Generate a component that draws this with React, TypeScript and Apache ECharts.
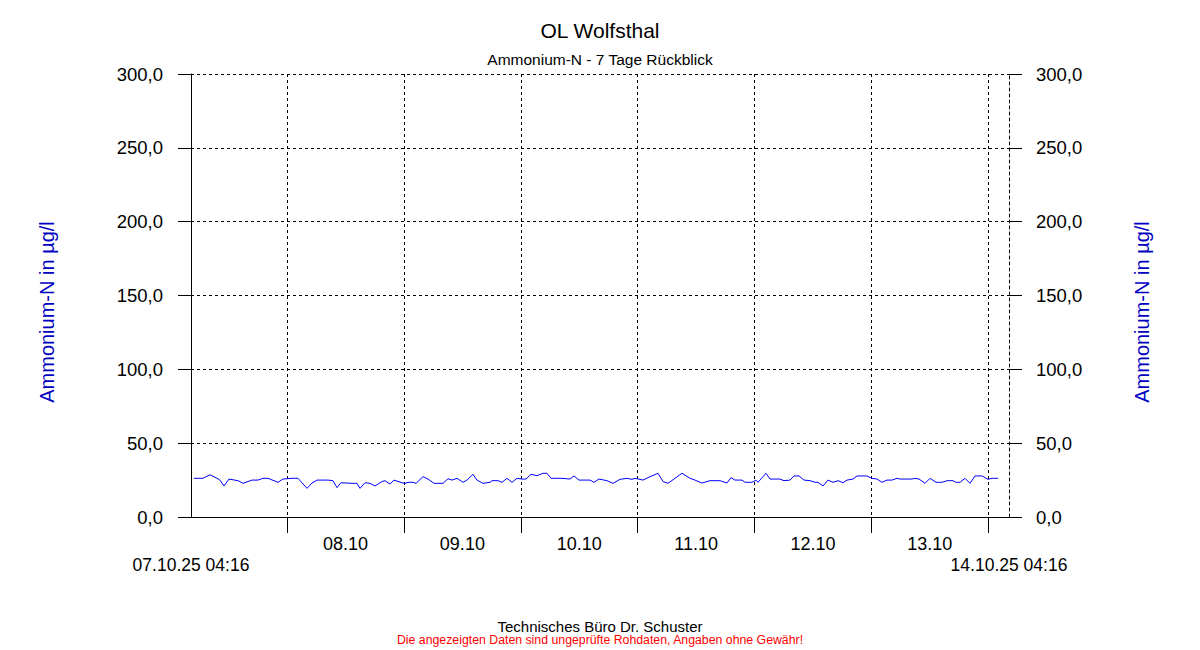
import React, { useEffect, useRef } from "react";
import * as echarts from "echarts";

// hours since 07.10.2025 00:00
const hours: number[] = [
  4.88, 6.73, 8.17, 9.61, 10.22, 11.04, 12.07, 13.92, 14.95, 16.79, 18.03, 19.05, 20.08, 22.13, 23.16,
  25.01, 26.24, 27.06, 28.09, 29.12, 30.15, 32.41, 33.43, 34.25, 35.07, 37.33, 38.36, 38.98, 40.0, 41.03,
  42.06, 43.49, 44.11, 45.14, 45.96, 47.6, 48.22, 48.84, 49.86, 50.48, 51.92, 52.94, 54.18, 56.02, 57.05,
  57.87, 58.9, 60.13, 60.95, 62.18, 63.01, 64.24, 65.68, 66.09, 67.32, 68.14, 69.17, 70.19, 71.22, 72.25,
  73.07, 74.09, 75.33, 76.56, 77.38, 78.2, 80.46, 82.1, 82.93, 83.95, 86.21, 87.04, 88.06, 89.7, 90.94,
  92.38, 93.81, 94.84, 95.46, 97.1, 98.54, 100.18, 101.21, 102.24, 103.67, 105.11, 106.76, 107.78, 109.22,
  110.86, 112.92, 114.35, 115.17, 115.99, 117.43, 118.05, 119.48, 120.3, 120.72, 122.36, 123.18, 125.24,
  126.06, 127.29, 128.11, 129.14, 130.17, 131.4, 132.43, 133.04, 134.07, 135.09, 136.12, 137.15, 138.17,
  139.0, 140.23, 141.05, 143.1, 144.13, 145.16, 146.18, 147.21, 148.24, 149.27, 149.88, 152.35, 152.96,
  153.78, 155.02, 156.04, 157.28, 158.51, 159.54, 160.77, 161.39, 162.21, 163.23, 164.26, 165.29, 166.73,
  167.96, 168.78, 170.01,
];
const values: number[] = [
  26.2, 26.2, 28.6, 26.2, 25.0, 21.0, 25.7, 24.6, 22.8, 25.0, 25.0, 26.2, 26.2, 23.5, 25.7,
  26.2, 26.2, 23.2, 19.4, 23.0, 25.0, 25.0, 24.6, 19.9, 23.2, 22.8, 22.8, 19.4, 23.2, 22.8,
  21.0, 24.0, 24.6, 22.3, 25.0, 23.2, 22.8, 23.5, 23.5, 22.8, 27.3, 25.7, 22.8, 22.8, 25.9,
  25.0, 26.2, 23.5, 25.0, 28.9, 25.0, 22.8, 23.5, 24.6, 24.6, 23.5, 26.2, 23.5, 26.2, 25.7,
  25.7, 28.9, 28.0, 29.6, 29.6, 26.2, 26.2, 25.7, 27.8, 25.0, 25.0, 23.5, 25.7, 24.6, 22.8,
  25.5, 26.2, 25.5, 26.2, 25.0, 27.3, 29.6, 24.0, 22.8, 26.2, 29.6, 26.2, 25.0, 23.0,
  24.6, 24.6, 23.0, 26.7, 25.0, 25.0, 23.5, 23.5, 25.0, 23.5, 29.6, 25.7, 25.7,
  24.6, 25.0, 27.8, 27.8, 25.0, 24.6, 23.5, 23.5, 21.0, 25.0, 23.5, 24.6, 23.2,
  25.0, 25.7, 27.8, 27.8, 26.2, 25.7, 23.5, 25.0, 25.0, 26.2, 25.7, 25.7, 26.2,
  25.7, 22.8, 26.2, 23.5, 23.5, 24.6, 24.6, 23.5, 23.5, 26.2, 22.8, 27.8, 27.8,
  25.5, 26.2, 26.2,
];

const xMin = 4 + 16 / 60; // 07.10.25 04:16
const xMax = 168 + 4 + 16 / 60; // 14.10.25 04:16
const midnights: number[] = [24, 48, 72, 96, 120, 144, 168];
const dayCenters: number[] = [36, 60, 84, 108, 132, 156];
const dayLabels: string[] = ["08.10", "09.10", "10.10", "11.10", "12.10", "13.10"];
const rangeLabels: string[] = ["07.10.25 04:16", "14.10.25 04:16"];
const yName = "Ammonium-N in µg/l";

const FONT = "'Liberation Sans', Arial, sans-serif";
const dash = [3, 3];

export default function App() {
  const ref = useRef<HTMLDivElement>(null);
  useEffect(() => {
    if (!ref.current) return;
    const chart = echarts.init(ref.current, null, { renderer: "svg" });
    const yLabel = (v: number) => v.toFixed(1).replace(".", ",");
    const t = (text: string, top: number, size: number, color: string) => ({
      text,
      left: "center",
      top,
      padding: 0,
      textStyle: { fontFamily: FONT, fontSize: size, fontWeight: "normal", color },
    });
    chart.setOption({
      animation: false,
      backgroundColor: "#ffffff",
      textStyle: { fontFamily: FONT },
      title: [
        t("OL Wolfsthal", 20, 21, "#000"),
        t("Ammonium-N - 7 Tage Rückblick", 51, 15.5, "#000"),
        t("Technisches Büro Dr. Schuster", 619, 15, "#000"),
        t("Die angezeigten Daten sind ungeprüfte Rohdaten, Angaben ohne Gewähr!", 634, 12.3, "#ff0000"),
      ],
      graphic: [
        {
          type: "text",
          x: 47,
          y: 312,
          rotation: Math.PI / 2,
          style: { text: yName, font: `20px ${FONT}`, fill: "#0000c0", align: "center", verticalAlign: "middle" },
        },
        {
          type: "text",
          x: 1142,
          y: 312,
          rotation: Math.PI / 2,
          style: { text: yName, font: `20px ${FONT}`, fill: "#0000c0", align: "center", verticalAlign: "middle" },
        },
      ],
      grid: { left: 191, right: 191, top: 74, bottom: 133, containLabel: false },
      xAxis: [
        {
          type: "value",
          min: xMin,
          max: xMax,
          axisLine: { show: true, lineStyle: { color: "#000", width: 1 } },
          axisTick: { show: true, customValues: midnights, length: 16, inside: false, lineStyle: { color: "#000" } },
          splitLine: { show: true, lineStyle: { color: "#000", type: dash, width: 1 } },
          axisLabel: {
            customValues: dayCenters,
            margin: 18,
            fontSize: 18,
            fontFamily: FONT,
            color: "#000",
            formatter: (v: number) => dayLabels[dayCenters.indexOf(v)] ?? "",
          },
        },
        {
          type: "value",
          min: xMin,
          max: xMax,
          position: "bottom",
          axisLine: { show: false },
          axisTick: { show: false },
          splitLine: { show: false },
          axisLabel: {
            customValues: [xMin, xMax],
            margin: 39,
            fontSize: 17.5,
            fontFamily: FONT,
            color: "#000",
            showMinLabel: true,
            showMaxLabel: true,
            formatter: (v: number) => (v === xMin ? rangeLabels[0] : rangeLabels[1]),
          },
        },
      ],
      yAxis: [
        {
          type: "value",
          position: "left",
          min: 0,
          max: 300,
          interval: 50,
          axisLine: { show: true, lineStyle: { color: "#000", width: 1 } },
          axisTick: { show: true, length: 13, lineStyle: { color: "#000" } },
          splitLine: { show: true, lineStyle: { color: "#000", type: dash, width: 1 } },
          axisLabel: { margin: 28, fontSize: 18.5, fontFamily: FONT, color: "#000", formatter: yLabel },
        },
        {
          type: "value",
          position: "right",
          min: 0,
          max: 300,
          interval: 50,
          axisLine: { show: true, lineStyle: { color: "#000", width: 1, type: dash } },
          axisTick: { show: true, length: 13, lineStyle: { color: "#000" } },
          splitLine: { show: false },
          axisLabel: { margin: 27, fontSize: 18.5, fontFamily: FONT, color: "#000", formatter: yLabel },
        },
      ],
      series: [
        {
          type: "line",
          xAxisIndex: 0,
          yAxisIndex: 0,
          data: hours.map((h, i) => [h, values[i]]),
          showSymbol: false,
          lineStyle: { color: "#0000ff", width: 1 },
          silent: true,
        },
      ],
    });
    return () => chart.dispose();
  }, []);
  return <div ref={ref} style={{ position: "absolute", left: 0, top: 0, width: 1200, height: 650 }} />;
}
